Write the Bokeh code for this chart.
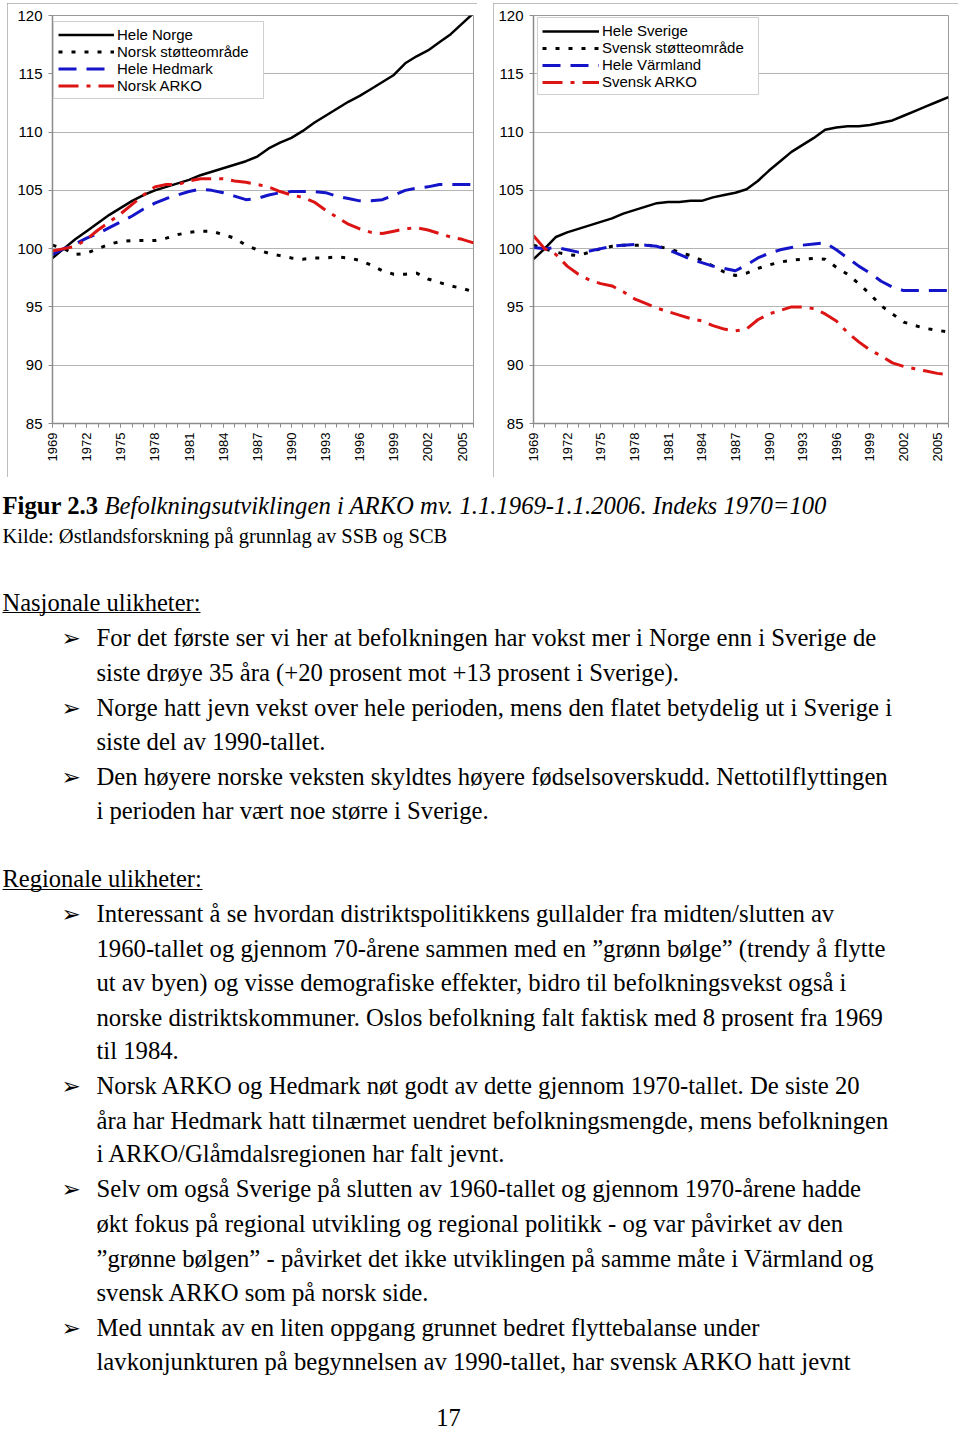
import math
from bokeh.plotting import figure
from bokeh.models import Range1d, FixedTicker, Legend, LegendItem, ColumnDataSource, Spacer
from bokeh.layouts import column, row
from bokeh.embed import file_html
from bokeh.resources import INLINE
from bokeh.core.properties import value

# ---------------- data ----------------
years = list(range(1969, 2007))
tick_years = list(range(1969, 2006, 3))
y_ticks = [85, 90, 95, 100, 105, 110, 115, 120]

hele_norge = [99.2, 100.0, 100.8, 101.5, 102.2, 102.9, 103.5, 104.1, 104.6, 105.0,
              105.3, 105.6, 105.9, 106.3, 106.6, 106.9, 107.2, 107.5, 107.9, 108.6,
              109.1, 109.5, 110.1, 110.8, 111.4, 112.0, 112.6, 113.1, 113.7, 114.3,
              114.9, 115.9, 116.5, 117.0, 117.7, 118.4, 119.3, 120.2]
norsk_stotte = [100.3, 100.0, 99.5, 99.6, 100.0, 100.4, 100.6, 100.7, 100.7, 100.7,
                100.9, 101.2, 101.4, 101.5, 101.5, 101.2, 100.9, 100.3, 99.9, 99.6,
                99.4, 99.2, 99.1, 99.2, 99.2, 99.3, 99.2, 99.0, 98.6, 98.1,
                97.8, 97.8, 97.9, 97.4, 97.1, 96.8, 96.6, 96.3]
hele_hedmark = [99.5, 100.0, 100.4, 100.9, 101.3, 101.8, 102.3, 102.8, 103.4, 103.9,
                104.3, 104.6, 104.9, 105.1, 105.0, 104.8, 104.5, 104.2, 104.3, 104.6,
                104.8, 104.9, 104.9, 104.9, 104.8, 104.5, 104.3, 104.1, 104.1, 104.2,
                104.6, 105.0, 105.2, 105.3, 105.5, 105.5, 105.5, 105.5]
norsk_arko = [99.8, 100.0, 100.2, 100.8, 101.6, 102.3, 103.0, 103.8, 104.6, 105.3,
              105.5, 105.5, 105.8, 106.0, 106.0, 106.0, 105.8, 105.7, 105.5, 105.3,
              104.9, 104.6, 104.4, 104.0, 103.3, 102.7, 102.1, 101.7, 101.4, 101.3,
              101.5, 101.7, 101.8, 101.6, 101.3, 101.0, 100.8, 100.5]

hele_sverige = [99.1, 100.0, 101.0, 101.4, 101.7, 102.0, 102.3, 102.6, 103.0, 103.3,
                103.6, 103.9, 104.0, 104.0, 104.1, 104.1, 104.4, 104.6, 104.8, 105.1,
                105.8, 106.7, 107.5, 108.3, 108.9, 109.5, 110.2, 110.4, 110.5, 110.5,
                110.6, 110.8, 111.0, 111.4, 111.8, 112.2, 112.6, 113.0]
svensk_stotte = [100.3, 100.0, 99.7, 99.5, 99.4, 99.7, 100.0, 100.2, 100.3, 100.3,
                 100.3, 100.2, 100.0, 99.7, 99.4, 99.0, 98.5, 98.0, 97.7, 97.9,
                 98.3, 98.6, 98.85, 99.0, 99.1, 99.15, 99.1, 98.4, 97.8, 97.0,
                 96.1, 95.1, 94.4, 93.7, 93.4, 93.15, 93.0, 92.85]
hele_varmland = [100.1, 100.0, 100.1, 99.9, 99.7, 99.8, 100.0, 100.2, 100.3, 100.35,
                 100.3, 100.2, 99.9, 99.5, 99.1, 98.8, 98.5, 98.3, 98.1, 98.6,
                 99.2, 99.6, 99.9, 100.1, 100.3, 100.4, 100.5, 99.9, 99.2, 98.5,
                 97.9, 97.2, 96.7, 96.4, 96.4, 96.4, 96.4, 96.4]
svensk_arko = [101.1, 100.0, 99.5, 98.5, 97.8, 97.3, 97.0, 96.8, 96.3, 95.7,
               95.3, 94.9, 94.6, 94.3, 94.0, 93.8, 93.4, 93.1, 92.95, 93.1,
               93.9, 94.4, 94.7, 95.0, 95.0, 94.85, 94.4, 93.8, 92.8, 92.0,
               91.3, 90.8, 90.2, 89.9, 89.7, 89.5, 89.3, 89.2]

labels_no = ["Hele Norge", "Norsk støtteområde", "Hele Hedmark", "Norsk ARKO"]
labels_se = ["Hele Sverige", "Svensk støtteområde", "Hele Värmland", "Svensk ARKO"]

caption_bold = "Figur 2.3"
caption_italic = "Befolkningsutviklingen i ARKO mv. 1.1.1969-1.1.2006. Indeks 1970=100"
source_text = "Kilde: Østlandsforskning på grunnlag av SSB og SCB"
headings = ["Nasjonale ulikheter:", "Regionale ulikheter:"]
body_lines = [
    "For det første ser vi her at befolkningen har vokst mer i Norge enn i Sverige de",
    "siste drøye 35 åra (+20 prosent mot +13 prosent i Sverige).",
    "Norge hatt jevn vekst over hele perioden, mens den flatet betydelig ut i Sverige i",
    "siste del av 1990-tallet.",
    "Den høyere norske veksten skyldtes høyere fødselsoverskudd. Nettotilflyttingen",
    "i perioden har vært noe større i Sverige.",
    "Interessant å se hvordan distriktspolitikkens gullalder fra midten/slutten av",
    "1960-tallet og gjennom 70-årene sammen med en \u201dgrønn bølge\u201d (trendy å flytte",
    "ut av byen) og visse demografiske effekter, bidro til befolkningsvekst også i",
    "norske distriktskommuner. Oslos befolkning falt faktisk med 8 prosent fra 1969",
    "til 1984.",
    "Norsk ARKO og Hedmark nøt godt av dette gjennom 1970-tallet. De siste 20",
    "åra har Hedmark hatt tilnærmet uendret befolkningsmengde, mens befolkningen",
    "i ARKO/Glåmdalsregionen har falt jevnt.",
    "Selv om også Sverige på slutten av 1960-tallet og gjennom 1970-årene hadde",
    "økt fokus på regional utvikling og regional politikk - og var påvirket av den",
    "\u201dgrønne bølgen\u201d - påvirket det ikke utviklingen på samme måte i Värmland og",
    "svensk ARKO som på norsk side.",
    "Med unntak av en liten oppgang grunnet bedret flyttebalanse under",
    "lavkonjunkturen på begynnelsen av 1990-tallet, har svensk ARKO hatt jevnt",
]
body_y = [637, 672, 707, 741, 776, 810, 913, 948, 982, 1017, 1050, 1085, 1120,
          1153, 1188, 1223, 1258, 1292, 1327, 1361]
bullet_y = [637, 707, 776, 913, 1085, 1188, 1327]
heading_y = [602, 878]
page_number = "17"

# ---------------- styles ----------------
BLUE = "#1414c8"
RED = "#dc1414"
styles_series = [
    dict(color="black", line_width=2.5, line_dash="solid"),
    dict(color="black", line_width=3, line_dash="4 9"),
    dict(color=BLUE, line_width=3, line_dash="18 10"),
    dict(color=RED, line_width=3, line_dash="20 8 4 8"),
]


def make_chart(series, labels, width, bl, br, leg_x, leg_y, row_h, glyph_w, lab_w):
    p = figure(width=width, height=474, x_range=Range1d(1969, 2006),
               y_range=Range1d(85, 120), output_backend="svg",
               toolbar_location=None, title=None,
               min_border_left=bl, min_border_right=br,
               min_border_top=12, min_border_bottom=54,
               styles={"outline": "1px solid #a8a8a8", "outline-offset": "-1px"})
    p.background_fill_color = "white"
    p.border_fill_color = "white"
    p.outline_line_color = "#9a9a9a"
    p.outline_line_width = 1

    p.xgrid.visible = False
    p.ygrid.ticker = FixedTicker(ticks=y_ticks)
    p.ygrid.grid_line_color = "#b4b4b4"
    p.ygrid.grid_line_width = 1

    p.yaxis.ticker = FixedTicker(ticks=y_ticks)
    p.yaxis.major_label_text_font = "Liberation Sans"
    p.yaxis.major_label_text_font_size = "15px"
    p.yaxis.major_label_text_color = "black"
    p.yaxis.major_tick_out = 4
    p.yaxis.major_tick_in = 0
    p.yaxis.minor_tick_line_color = None
    p.yaxis.major_label_standoff = 6
    p.yaxis.axis_line_color = "#8c8c8c"
    p.yaxis.axis_line_width = 1.5
    p.yaxis.major_tick_line_color = "#8c8c8c"

    p.xaxis.ticker = FixedTicker(ticks=tick_years, minor_ticks=years)
    p.xaxis.major_label_orientation = math.pi / 2
    p.xaxis.major_label_text_font = "Liberation Sans"
    p.xaxis.major_label_text_font_size = "13px"
    p.xaxis.major_label_text_color = "black"
    p.xaxis.major_tick_out = 4
    p.xaxis.major_tick_in = 0
    p.xaxis.minor_tick_out = 4
    p.xaxis.minor_tick_in = 0
    p.xaxis.major_label_standoff = 5
    p.xaxis.axis_line_color = "#8c8c8c"
    p.xaxis.axis_line_width = 1.5
    p.xaxis.major_tick_line_color = "#8c8c8c"
    p.xaxis.minor_tick_line_color = "#8c8c8c"

    items = []
    for vals, lab, st in zip(series, labels, styles_series):
        src = ColumnDataSource(dict(x=years, y=vals))
        r = p.line("x", "y", source=src, line_color=st["color"],
                   line_width=st["line_width"], line_dash=st["line_dash"],
                   line_join="round")
        items.append(LegendItem(label=lab, renderers=[r]))

    leg = Legend(items=items, location=(leg_x, leg_y))
    leg.border_line_color = "#a0a0a0"
    leg.border_line_width = 1
    leg.background_fill_color = "white"
    leg.background_fill_alpha = 1
    leg.label_text_font = "Liberation Sans"
    leg.label_text_font_size = "15px"
    leg.label_text_color = "black"
    leg.glyph_width = glyph_w
    leg.glyph_height = row_h
    leg.label_height = row_h
    leg.label_width = lab_w
    leg.spacing = 0
    leg.padding = 4
    leg.label_standoff = 3
    leg.margin = 0
    p.add_layout(leg)
    return p


p_left = make_chart([hele_norge, norsk_stotte, hele_hedmark, norsk_arko], labels_no,
                    width=470, bl=45, br=4, leg_x=1, leg_y=408 - 8 - 76,
                    row_h=17, glyph_w=56, lab_w=142)
p_right = make_chart([hele_sverige, svensk_stotte, hele_varmland, svensk_arko], labels_se,
                     width=465, bl=40, br=10, leg_x=4, leg_y=408 - 8 - 72,
                     row_h=16, glyph_w=57, lab_w=152)

# ---------------- text part ----------------
pt = figure(width=960, height=957, x_range=Range1d(0, 960), y_range=Range1d(1434, 477),
            output_backend="svg", toolbar_location=None, title=None,
            x_axis_location=None, y_axis_location=None, min_border=0)
pt.grid.visible = False
pt.outline_line_color = None
pt.background_fill_color = "white"
pt.border_fill_color = "white"

SERIF = value("Liberation Serif")
pt.text(x=[2], y=[505], text=[caption_bold], text_font=SERIF, text_font_style="bold",
        text_font_size="24.7px", text_baseline="middle", text_color="black")
pt.text(x=[104], y=[505], text=[caption_italic], text_font=SERIF, text_font_style="italic",
        text_font_size="24.7px", text_baseline="middle", text_color="black")
pt.text(x=[2], y=[535], text=[source_text], text_font=SERIF,
        text_font_size="20.5px", text_baseline="middle", text_color="black")
pt.text(x=[2, 2], y=heading_y, text=headings, text_font=SERIF,
        text_font_size="24.5px", text_baseline="middle", text_color="black")
pt.segment(x0=[2, 2], y0=[612, 889], x1=[200, 202], y1=[612, 889],
           line_color="black", line_width=1.2)
pt.text(x=[96] * len(body_lines), y=body_y, text=body_lines, text_font=SERIF,
        text_font_size="24.7px", text_baseline="middle", text_color="black")
pt.text(x=[61] * len(bullet_y), y=bullet_y, text=["\u27a2"] * len(bullet_y),
        text_font=value("DejaVu Sans"), text_font_size="23px",
        text_baseline="middle", text_color="black")
pt.text(x=[448], y=[1417], text=[page_number], text_font=SERIF, text_align="center",
        text_font_size="24.5px", text_baseline="middle", text_color="black")

layout = column(Spacer(width=960, height=3),
                row(Spacer(width=7, height=474), p_left, Spacer(width=16, height=474), p_right),
                pt)

open("out.html", "w").write(file_html(layout, INLINE))
